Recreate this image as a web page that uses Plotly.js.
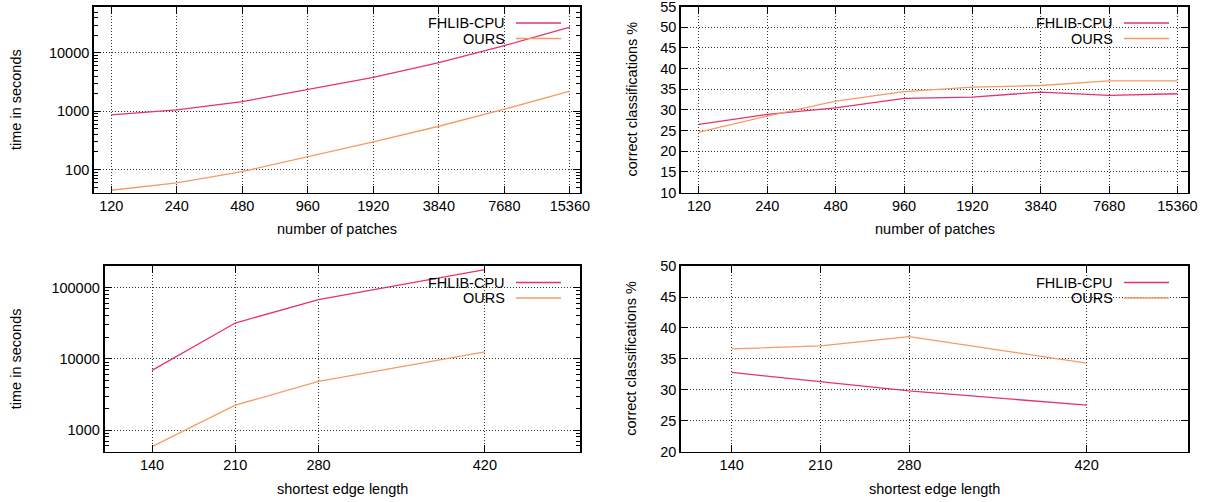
<!DOCTYPE html>
<html>
<head>
<meta charset="utf-8">
<script src="https://cdn.plot.ly/plotly-3.0.1.min.js"></script>
<style>html,body{margin:0;padding:0;background:#fff;}#chart{width:1205px;height:502px;}</style>
</head>
<body>
<div id="chart"></div>
<script>
// ---------- data ----------
const seriesNames = ['FHLIB-CPU', 'OURS'];
const patches = [120, 240, 480, 960, 1920, 3840, 7680, 15360];
const timeFhlibPatches = [865, 1050, 1460, 2350, 3800, 6800, 13300, 27500];
const timeOursPatches = [44, 59, 92, 163, 297, 551, 1080, 2200];
const accFhlibPatches = [26.5, 28.9, 30.5, 32.8, 33.1, 34.3, 33.5, 33.9];
const accOursPatches = [24.6, 28.5, 32.1, 34.4, 35.5, 35.9, 37.0, 37.0];
const edgeLengths = [140, 210, 280, 420];
const timeFhlibEdge = [6880, 31700, 67700, 178000];
const timeOursEdge = [586, 2230, 4810, 12500];
const accFhlibEdge = [32.8, 31.3, 29.8, 27.5];
const accOursEdge = [36.6, 37.1, 38.6, 34.3];
const timeTicksTop = [100, 1000, 10000];
const timeTicksBottom = [1000, 10000, 100000];
const accTicksTop = [10, 15, 20, 25, 30, 35, 40, 45, 50, 55];
const accTicksBottom = [20, 25, 30, 35, 40, 45, 50];
const xTitles = ['number of patches', 'shortest edge length'];
const yTitles = ['time in seconds', 'correct classifications %'];

// ---------- style ----------
const colors = ['#e5336d', '#f59b64'];
const FONT = 'Liberation Sans, Arial, Helvetica, sans-serif';
const FS = 14.5;
const W = 1205, H = 502;
const px = x => x / W;
const py = y => 1 - y / H;

const panels = [
  {l: 94, r: 580, t: 6.5, b: 192.5},
  {l: 681, r: 1188, t: 6.5, b: 192.5},
  {l: 104.5, r: 580, t: 266, b: 451.5},
  {l: 681, r: 1188, t: 266, b: 451.5}
];

function minorLog(lo, hi) {
  const out = [];
  for (let d = 1; d <= 1e6; d *= 10) {
    for (let k = 2; k <= 9; k++) {
      const v = k * d;
      if (v >= lo && v <= hi) out.push(v);
    }
  }
  return out;
}

const baseAxis = {
  showline: true, linecolor: '#000', linewidth: 1.8, mirror: 'ticks',
  ticks: 'inside', ticklen: 7, tickwidth: 1, tickcolor: '#000',
  showgrid: true, gridcolor: '#333', griddash: '1px,2px', gridwidth: 1,
  zeroline: false, fixedrange: true, ticklabeloverflow: 'allow',
  tickfont: {family: FONT, size: FS, color: '#000'}
};
function ax(extra) { return Object.assign({}, JSON.parse(JSON.stringify(baseAxis)), extra); }

const patchX = {
  type: 'log', range: [2.0, 4.233], tickmode: 'array',
  tickvals: patches, ticktext: patches.map(String), ticklabelstandoff: -1
};
const edgeX = {
  type: 'linear', range: [100, 500], tickmode: 'array',
  tickvals: edgeLengths, ticktext: edgeLengths.map(String), ticklabelstandoff: -1
};

const layout = {
  width: W, height: H,
  margin: {l: 0, r: 0, t: 0, b: 0},
  paper_bgcolor: '#fff', plot_bgcolor: '#fff',
  showlegend: false,
  font: {family: FONT, size: FS, color: '#000'},
  xaxis: ax(Object.assign({domain: [px(panels[0].l), px(panels[0].r)], anchor: 'y'}, patchX)),
  yaxis: ax({domain: [py(panels[0].b), py(panels[0].t)], anchor: 'x', type: 'log',
    range: [1.605, 4.795], tickmode: 'array', tickvals: timeTicksTop, ticktext: timeTicksTop.map(String),
    minor: {tickmode: 'array', tickvals: minorLog(40, 62000), ticks: 'inside', ticklen: 4, tickcolor: '#000', showgrid: false}}),
  xaxis2: ax(Object.assign({domain: [px(panels[1].l), px(panels[1].r)], anchor: 'y2'}, patchX)),
  yaxis2: ax({domain: [py(panels[1].b), py(panels[1].t)], anchor: 'x2', range: [10, 55.02],
    tickmode: 'array', tickvals: accTicksTop, ticktext: accTicksTop.map(String)}),
  xaxis3: ax(Object.assign({domain: [px(panels[2].l), px(panels[2].r)], anchor: 'y3'}, edgeX)),
  yaxis3: ax({domain: [py(panels[2].b), py(panels[2].t)], anchor: 'x3', type: 'log',
    range: [Math.log10(500), Math.log10(200000)], tickmode: 'array', tickvals: timeTicksBottom, ticktext: timeTicksBottom.map(String),
    minor: {tickmode: 'array', tickvals: minorLog(500, 200000), ticks: 'inside', ticklen: 4, tickcolor: '#000', showgrid: false}}),
  xaxis4: ax(Object.assign({domain: [px(panels[3].l), px(panels[3].r)], anchor: 'y4'}, edgeX)),
  yaxis4: ax({domain: [py(panels[3].b), py(panels[3].t)], anchor: 'x4', range: [20, 50.02],
    tickmode: 'array', tickvals: accTicksBottom, ticktext: accTicksBottom.map(String)}),
  shapes: [],
  annotations: []
};

// axis titles & legends
panels.forEach((p, i) => {
  const col = i % 2, row = Math.floor(i / 2);
  layout.annotations.push({
    xref: 'paper', yref: 'paper', x: px((p.l + p.r) / 2), y: py(row === 0 ? 229 : 489),
    text: xTitles[row], showarrow: false, xanchor: 'center', yanchor: 'middle',
    font: {family: FONT, size: FS, color: '#000'}
  });
  layout.annotations.push({
    xref: 'paper', yref: 'paper', x: px(col === 0 ? 15.5 : 631), y: py((p.t + p.b) / 2),
    text: yTitles[col], showarrow: false, textangle: -90, xanchor: 'center', yanchor: 'middle',
    font: {family: FONT, size: FS, color: '#000'}
  });
  // legend background
  layout.shapes.push({
    type: 'rect', layer: 'between', xref: 'paper', yref: 'paper',
    x0: px(p.r - 155), x1: px(p.r - 12), y0: py(p.t + 40), y1: py(p.t + 8),
    fillcolor: '#fff', line: {width: 0}
  });
  seriesNames.forEach((name, k) => {
    const yy = p.t + (k === 0 ? 16.5 : 32);
    layout.shapes.push({
      type: 'line', layer: 'above', xref: 'paper', yref: 'paper',
      x0: px(p.r - 64), x1: px(p.r - 19), y0: py(yy), y1: py(yy),
      line: {color: colors[k], width: 1.3}
    });
    layout.annotations.push({
      xref: 'paper', yref: 'paper', x: px(p.r - 73), y: py(yy),
      text: name, showarrow: false, xanchor: 'right', yanchor: 'middle',
      font: {family: FONT, size: FS, color: '#000'}
    });
  });
});

function tr(x, y, k, xa, ya) {
  return {x: x, y: y, name: seriesNames[k], type: 'scatter', mode: 'lines',
    line: {color: colors[k], width: 1.3}, xaxis: xa, yaxis: ya, hoverinfo: 'x+y+name'};
}
const data = [
  tr(patches, timeFhlibPatches, 0, 'x', 'y'),
  tr(patches, timeOursPatches, 1, 'x', 'y'),
  tr(patches, accFhlibPatches, 0, 'x2', 'y2'),
  tr(patches, accOursPatches, 1, 'x2', 'y2'),
  tr(edgeLengths, timeFhlibEdge, 0, 'x3', 'y3'),
  tr(edgeLengths, timeOursEdge, 1, 'x3', 'y3'),
  tr(edgeLengths, accFhlibEdge, 0, 'x4', 'y4'),
  tr(edgeLengths, accOursEdge, 1, 'x4', 'y4')
];

Plotly.newPlot('chart', data, layout, {displayModeBar: false, staticPlot: true});
</script>
</body>
</html>
